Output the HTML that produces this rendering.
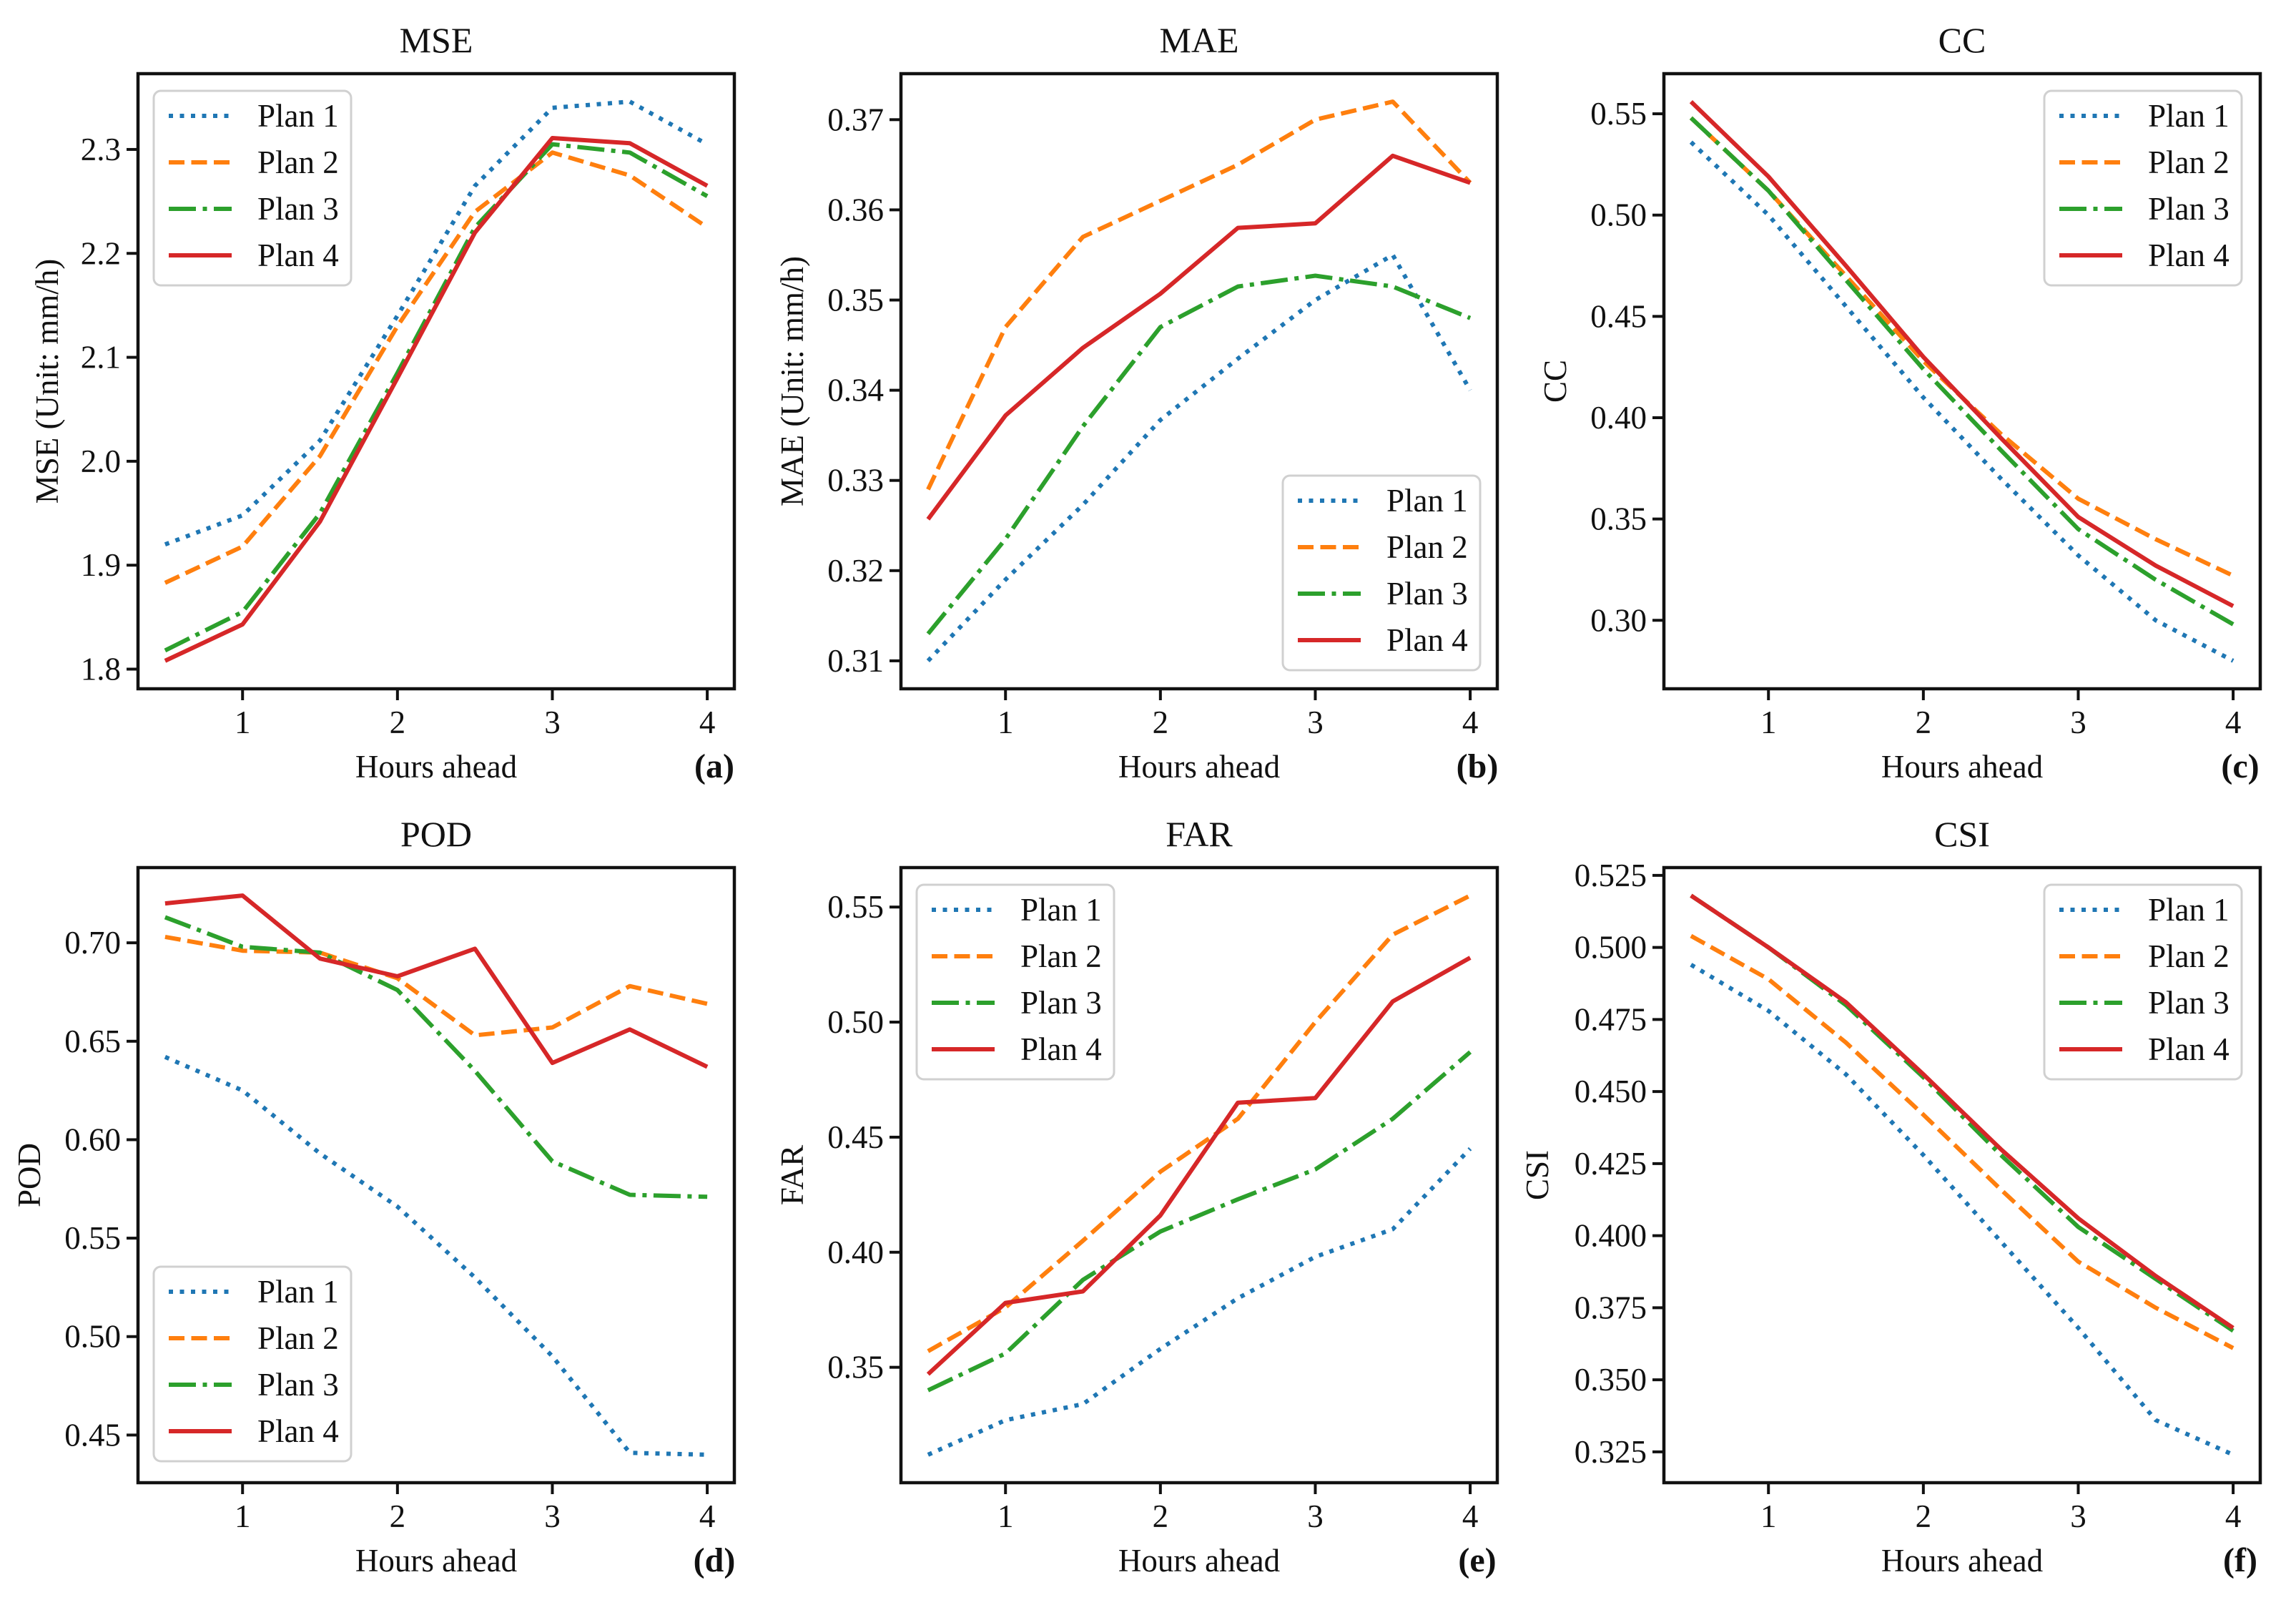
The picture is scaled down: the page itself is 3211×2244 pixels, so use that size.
<!DOCTYPE html>
<html><head><meta charset="utf-8"><style>
html,body{margin:0;padding:0;background:#fff;}
svg{display:block;font-family:"Liberation Serif",serif;}
</style></head><body>
<svg id="fig" width="3211" height="2244" viewBox="0 0 3211 2244" xmlns="http://www.w3.org/2000/svg"></svg>
<script>
const xValues=[0.5,1,1.5,2,2.5,3,3.5,4];
const xTicks=[1,2,3,4];
const seriesNames=["Plan 1","Plan 2","Plan 3","Plan 4"];
const mseP1=[1.920,1.948,2.020,2.140,2.265,2.340,2.346,2.305];
const mseP2=[1.883,1.918,2.005,2.130,2.240,2.297,2.275,2.225];
const mseP3=[1.818,1.855,1.950,2.085,2.225,2.305,2.297,2.255];
const mseP4=[1.808,1.843,1.942,2.080,2.220,2.311,2.306,2.265];
const mseTicks=[1.8,1.9,2.0,2.1,2.2,2.3];
const maeP1=[0.310,0.319,0.3273,0.3367,0.3435,0.350,0.355,0.340];
const maeP2=[0.329,0.347,0.357,0.361,0.365,0.370,0.372,0.363];
const maeP3=[0.313,0.3235,0.336,0.347,0.3515,0.3527,0.3515,0.348];
const maeP4=[0.3257,0.3372,0.3447,0.3507,0.358,0.3585,0.366,0.363];
const maeTicks=[0.31,0.32,0.33,0.34,0.35,0.36,0.37];
const ccP1=[0.536,0.500,0.455,0.410,0.370,0.332,0.300,0.280];
const ccP2=[0.548,0.512,0.470,0.428,0.392,0.360,0.340,0.322];
const ccP3=[0.548,0.512,0.468,0.424,0.384,0.345,0.320,0.298];
const ccP4=[0.556,0.519,0.475,0.430,0.390,0.351,0.327,0.307];
const ccTicks=[0.30,0.35,0.40,0.45,0.50,0.55];
const podP1=[0.642,0.625,0.593,0.566,0.530,0.490,0.441,0.440];
const podP2=[0.703,0.696,0.695,0.682,0.653,0.657,0.678,0.669];
const podP3=[0.713,0.698,0.695,0.676,0.635,0.589,0.572,0.571];
const podP4=[0.720,0.724,0.692,0.683,0.697,0.639,0.656,0.637];
const podTicks=[0.45,0.50,0.55,0.60,0.65,0.70];
const farP1=[0.312,0.327,0.334,0.358,0.380,0.398,0.410,0.445];
const farP2=[0.357,0.376,0.405,0.435,0.458,0.500,0.538,0.555];
const farP3=[0.340,0.356,0.388,0.409,0.423,0.436,0.458,0.487];
const farP4=[0.347,0.378,0.383,0.416,0.465,0.467,0.509,0.528];
const farTicks=[0.35,0.40,0.45,0.50,0.55];
const csiP1=[0.494,0.478,0.456,0.428,0.398,0.368,0.336,0.324];
const csiP2=[0.504,0.489,0.467,0.442,0.416,0.391,0.375,0.361];
const csiP3=[0.518,0.500,0.480,0.455,0.428,0.403,0.385,0.367];
const csiP4=[0.518,0.500,0.481,0.456,0.430,0.406,0.386,0.368];
const csiTicks=[0.325,0.350,0.375,0.400,0.425,0.450,0.475,0.500,0.525];

const NS="http://www.w3.org/2000/svg";
const svg=document.getElementById('fig');
const colors=["#1f77b4","#ff7f0e","#2ca02c","#d62728"];
const dashes=["6,9.5","22,9.5","38,9.5,6,9.5",""];
const LW=6;
function el(tag,attrs,parent){const e=document.createElementNS(NS,tag);for(const k in attrs)e.setAttribute(k,attrs[k]);(parent||svg).appendChild(e);return e;}

const panels=[
 {key:"mse",title:"MSE",ylabel:"MSE (Unit: mm/h)",series:[mseP1,mseP2,mseP3,mseP4],ticks:mseTicks,dec:1,left:193,top:103,leg:"ul",lab:"(a)",ylx:66},
 {key:"mae",title:"MAE",ylabel:"MAE (Unit: mm/h)",series:[maeP1,maeP2,maeP3,maeP4],ticks:maeTicks,dec:2,left:1260,top:103,leg:"lr",lab:"(b)",ylx:1108},
 {key:"cc",title:"CC",ylabel:"CC",series:[ccP1,ccP2,ccP3,ccP4],ticks:ccTicks,dec:2,left:2327,top:103,leg:"ur",lab:"(c)",ylx:2175},
 {key:"pod",title:"POD",ylabel:"POD",series:[podP1,podP2,podP3,podP4],ticks:podTicks,dec:2,left:193,top:1213,leg:"ll",lab:"(d)",ylx:41},
 {key:"far",title:"FAR",ylabel:"FAR",series:[farP1,farP2,farP3,farP4],ticks:farTicks,dec:2,left:1260,top:1213,leg:"ul",lab:"(e)",ylx:1108},
 {key:"csi",title:"CSI",ylabel:"CSI",series:[csiP1,csiP2,csiP3,csiP4],ticks:csiTicks,dec:3,left:2327,top:1213,leg:"ur",lab:"(f)",ylx:2150}
];
const W=834,H=860;
panels.forEach(p=>{
 const g=el('g',{});
 
 
 const L=p.left,T=p.top,R=L+W,B=T+H;
 const xmin=0.5,xmax=4,xm=(xmax-xmin)*0.05;
 const xs=v=>L+(v-(xmin-xm))/((xmax+xm)-(xmin-xm))*W;
 let lo=Infinity,hi=-Infinity;p.series.forEach(s=>s.forEach(v=>{lo=Math.min(lo,v);hi=Math.max(hi,v);}));
 const ym=(hi-lo)*0.05,y0=lo-ym,y1=hi+ym;
 const ys=v=>B-(v-y0)/(y1-y0)*H;
 p.series.forEach((s,i)=>{
  const d=s.map((v,j)=>(j?'L':'M')+xs(xValues[j]).toFixed(1)+' '+ys(v).toFixed(1)).join(' ');
  const path=el('path',{d:d,fill:'none',stroke:colors[i],'stroke-width':LW,'stroke-linejoin':'round'},g);
  if(dashes[i])path.setAttribute('stroke-dasharray',dashes[i]);
  
  
 });
 const fr=el('rect',{x:L,y:T,width:W,height:H,fill:'none',stroke:'#111','stroke-width':4.5},g);
 
 
 xTicks.forEach(t=>{
  const x=xs(t);
  el('line',{x1:x,y1:B,x2:x,y2:B+16,stroke:'#111','stroke-width':4},g);
  const tx=el('text',{x:x,y:B+62,'font-size':45,'text-anchor':'middle',fill:'#111'},g);
  tx.textContent=t;
  
  
 });
 p.ticks.forEach(t=>{
  const y=ys(t);
  el('line',{x1:L,y1:y,x2:L-16,y2:y,stroke:'#111','stroke-width':4},g);
  const tx=el('text',{x:L-24,y:y+15,'font-size':45,'text-anchor':'end',fill:'#111'},g);
  tx.textContent=t.toFixed(p.dec);
  
  
 });
 const ti=el('text',{x:L+W/2,y:T-30,'font-size':50,'text-anchor':'middle',fill:'#111'},g);
 ti.textContent=p.title;
 
 
 const xl=el('text',{x:L+W/2,y:B+124,'font-size':45,'text-anchor':'middle',fill:'#111'},g);
 xl.textContent='Hours ahead';
 
 
 const pl=el('text',{x:R-28,y:B+124,'font-size':48,'font-weight':'bold','text-anchor':'middle',fill:'#111'},g);
 pl.textContent=p.lab;
 
 
 const yl=el('text',{x:0,y:0,'font-size':45,'text-anchor':'middle',fill:'#111',transform:`translate(${p.ylx+15},${T+H/2}) rotate(-90)`},g);
 yl.textContent=p.ylabel;
 
 
 const lw=276,lh=272;
 let lx,ly;
 if(p.leg==='ul'){lx=L+22;ly=T+24;}
 else if(p.leg==='ur'){lx=R-26-lw;ly=T+24;}
 else if(p.leg==='lr'){lx=R-24-lw;ly=B-26-lh;}
 else {lx=L+22;ly=B-30-lh;}
 const lg=el('g',{},g);
 
 
 el('rect',{x:lx,y:ly,width:lw,height:lh,rx:10,fill:'#fff','fill-opacity':0.8,stroke:'#d0d0d0','stroke-width':3},lg);
 seriesNames.forEach((n,i)=>{
  const yy=ly+35+i*65;
  const ln=el('line',{x1:lx+21,y1:yy,x2:lx+109,y2:yy,stroke:colors[i],'stroke-width':LW},lg);
  if(dashes[i])ln.setAttribute('stroke-dasharray',dashes[i]);
  
  
  const t=el('text',{x:lx+145,y:yy+15,'font-size':45,fill:'#111'},lg);
  t.textContent=n;
  
  
 });
});
</script>
</body></html>
